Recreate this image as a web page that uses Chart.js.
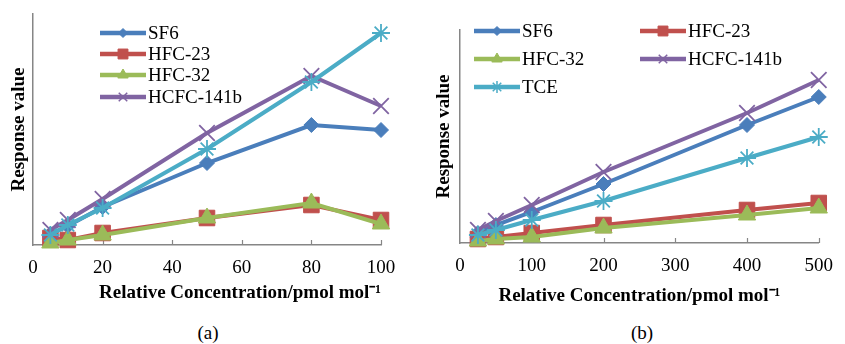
<!DOCTYPE html>
<html>
<head>
<meta charset="utf-8">
<script src="https://cdn.jsdelivr.net/npm/chart.js@4/dist/chart.umd.min.js"></script>
<style>
  body { margin: 0; background: #fff; width: 845px; height: 344px; overflow: hidden; position: relative; font-family: "Liberation Serif", serif; }
  .box { position: absolute; top: 0; }
  .cap { position: absolute; top: 321px; width: 40px; margin-left: -20px; text-align: center; font-size: 19px; line-height: 24px; color: #000; }
</style>
</head>
<body>
<div class="box" style="left:0"><canvas id="chartA" width="420" height="310"></canvas></div>
<div class="box" style="left:420px"><canvas id="chartB" width="425" height="310"></canvas></div>
<div class="cap" style="left:208px">(a)</div>
<div class="cap" style="left:642px">(b)</div>

<script>
/* two response curves — (a) low range, (b) high range */

const seriesNames = ['SF6', 'HFC-23', 'HFC-32', 'HCFC-141b', 'TCE'];

// (a) 0–100 pmol/mol
const concA     = [5, 10, 20, 50, 80, 100];
const sf6A      = [11, 19, 38, 82, 120, 115];
const hfc23A    = [7, 5, 12, 27, 40, 25];
const hfc32A    = [2, 5, 10, 27, 42, 21];
const hcfc141bA = [15, 25, 46, 112, 169, 139];
const tceA      = [10, 20, 37, 96, 163, 212];
const xTicksA   = [0, 20, 40, 60, 80, 100];

// (b) 0–500 pmol/mol
const concB     = [25, 50, 100, 200, 400, 500];
const sf6B      = [10, 18, 31, 59, 118, 146];
const hfc23B    = [4, 6, 10, 18, 33, 40];
const hfc32B    = [2, 4, 6, 15, 28, 35];
const hcfc141bB = [13, 22, 38, 71, 130, 163];
const tceB      = [8, 13, 23, 42, 85, 106];
const xTicksB   = [0, 100, 200, 300, 400, 500];

const colors  = ['#4A7EBB', '#C0504D', '#9BBB59', '#8064A2', '#4BACC6'];
const markers = ['rectRot', 'rect', 'triangle', 'crossRot', 'star'];
const radii   = [7.5, 11, 10, 11, 9];
const legendRadii = [4.5, 7, 6, 6, 6];
const axisGray = '#868686';
const FONT = '"Liberation Serif", "Times New Roman", serif';

const innerTicks = {
  id: 'innerTicks',
  beforeDatasetsDraw(chart) {
    const sx = chart.scales.x, ctx = chart.ctx, bottom = chart.chartArea.bottom;
    ctx.save();
    ctx.strokeStyle = axisGray;
    ctx.lineWidth = 1.2;
    sx.ticks.forEach(t => {
      if (t.value === sx.min) return;
      const px = Math.round(sx.getPixelForValue(t.value)) + 0.5;
      ctx.beginPath(); ctx.moveTo(px, bottom); ctx.lineTo(px, bottom - 5); ctx.stroke();
    });
    ctx.restore();
  },
};

const markerLegend = {
  id: 'markerLegend',
  afterDraw(chart, args, opts) {
    const ctx = chart.ctx;
    ctx.save();
    ctx.font = '19px ' + FONT;
    ctx.textBaseline = 'middle';
    opts.items.forEach(it => {
      const ds = chart.data.datasets[it.index];
      ctx.strokeStyle = ds.borderColor;
      ctx.lineWidth = 4.5;
      ctx.beginPath(); ctx.moveTo(it.x, it.y); ctx.lineTo(it.x + 46, it.y); ctx.stroke();
      ctx.fillStyle = ds.backgroundColor;
      ctx.lineWidth = ds.pointStyle.startsWith('cross') || ds.pointStyle === 'star' ? 1.5 : 1;
      Chart.helpers.drawPoint(ctx, { pointStyle: ds.pointStyle, radius: legendRadii[it.index], borderWidth: 1, rotation: 0 }, it.x + 23, it.y);
      ctx.fillStyle = '#000';
      ctx.fillText(ds.label, it.x + 48, it.y + 1);
    });
    ctx.restore();
  },
};

function buildDatasets(xs, seriesList) {
  return seriesList.map((ys, i) => ({
    label: seriesNames[i],
    data: xs.map((x, k) => ({ x, y: ys[k] })),
    borderColor: colors[i],
    backgroundColor: colors[i],
    borderWidth: 4,
    pointStyle: markers[i],
    pointRadius: radii[i],
    pointBorderWidth: markers[i] === 'crossRot' || markers[i] === 'star' ? 1.8 : 1,
    tension: 0,
    clip: false,
    order: seriesList.length - i,
  }));
}

function makeChart(id, xs, seriesList, cfg) {
  return new Chart(document.getElementById(id), {
    type: 'line',
    data: { datasets: buildDatasets(xs, seriesList) },
    options: {
      responsive: false, animation: false, devicePixelRatio: 1,
      layout: { padding: { top: cfg.top, right: cfg.right, left: 0, bottom: 0 } },
      plugins: { legend: { display: false }, tooltip: { enabled: false }, markerLegend: { items: cfg.legend } },
      scales: {
        x: {
          type: 'linear', min: 0, max: cfg.xMax,
          afterBuildTicks: s => { s.ticks = cfg.xTicks.map(v => ({ value: v })); },
          afterFit: s => { s.height = 310 - cfg.bottomPx; },
          grid: { display: false, drawTicks: false },
          border: { color: axisGray, width: 1.5 },
          ticks: { color: '#000', font: { family: FONT, size: 19 }, padding: 12, maxRotation: 0 },
          title: { display: true, text: 'Relative Concentration/pmol mol\u207B\u00B9', align: cfg.titleAlign,
                   color: '#000', font: { family: FONT, size: 19, weight: 'bold' }, padding: cfg.xTitlePad },
        },
        y: {
          min: 0, max: cfg.yMax,
          afterFit: s => { s.width = cfg.leftPx; },
          grid: { display: false, drawTicks: false },
          border: { color: axisGray, width: 1.5 },
          ticks: { display: false },
          title: { display: true, text: 'Response value', color: '#000',
                   font: { family: FONT, size: 19, weight: 'bold' }, padding: cfg.yTitlePad },
        },
      },
    },
    plugins: [innerTicks, markerLegend],
  });
}

makeChart('chartA', concA, [sf6A, hfc23A, hfc32A, hcfc141bA, tceA], {
  top: 14, right: 39, leftPx: 33, bottomPx: 245, xMax: 100, yMax: 231, xTicks: xTicksA,
  titleAlign: 'end', xTitlePad: 6, yTitlePad: 8,
  legend: [
    { index: 0, x: 100, y: 33 },
    { index: 1, x: 100, y: 54 },
    { index: 2, x: 100, y: 75 },
    { index: 3, x: 100, y: 97 },
  ],
});

makeChart('chartB', concB, [sf6B, hfc23B, hfc32B, hcfc141bB, tceB], {
  top: 30, right: 16, leftPx: 40, bottomPx: 243, xMax: 500, yMax: 213, xTicks: xTicksB,
  titleAlign: 'center', xTitlePad: 3, yTitlePad: 13,
  legend: [
    { index: 0, x: 54, y: 31 },
    { index: 1, x: 220, y: 31 },
    { index: 2, x: 54, y: 59 },
    { index: 3, x: 220, y: 59 },
    { index: 4, x: 54, y: 87 },
  ],
});
</script>
</body>
</html>
